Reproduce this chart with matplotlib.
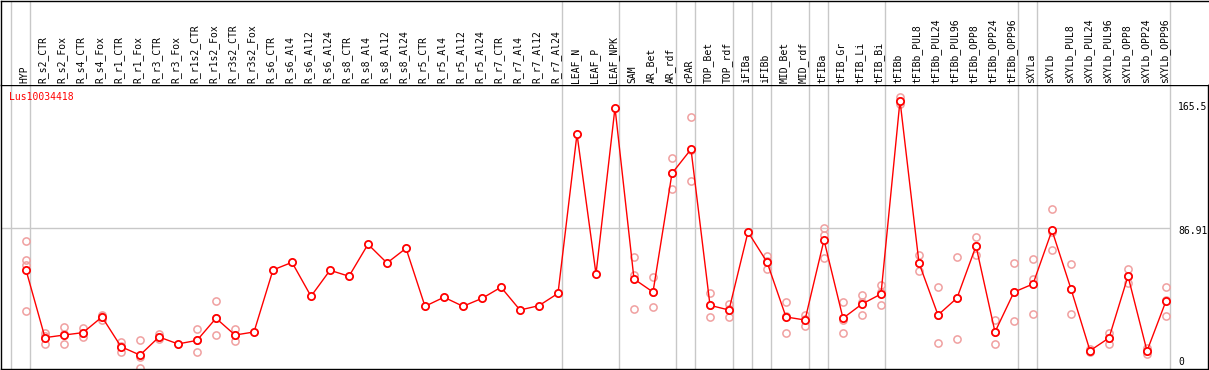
import matplotlib
matplotlib.use("Agg")
import matplotlib.pyplot as plt
import matplotlib.transforms as mtransforms

labels = ["HYP", "R_s2_CTR", "R_s2_Fox", "R_s4_CTR", "R_s4_Fox", "R_r1_CTR", "R_r1_Fox",
          "R_r3_CTR", "R_r3_Fox", "R_r1s2_CTR", "R_r1s2_Fox", "R_r3s2_CTR", "R_r3s2_Fox",
          "R_s6_CTR", "R_s6_Al4", "R_s6_Al12", "R_s6_Al24", "R_s8_CTR", "R_s8_Al4",
          "R_s8_Al12", "R_s8_Al24", "R_r5_CTR", "R_r5_Al4", "R_r5_Al12", "R_r5_Al24",
          "R_r7_CTR", "R_r7_Al4", "R_r7_Al12", "R_r7_Al24", "LEAF_N", "LEAF_P", "LEAF_NPK",
          "SAM", "AR_Bet", "AR_rdf", "cPAR", "TOP_Bet", "TOP_rdf", "iFIBa", "iFIBb",
          "MID_Bet", "MID_rdf", "tFIBa", "tFIB_Gr", "tFIB_Li", "tFIB_Bi", "tFIBb",
          "tFIBb_PUL8", "tFIBb_PUL24", "tFIBb_PUL96", "tFIBb_OPP8", "tFIBb_OPP24",
          "tFIBb_OPP96", "sXYLa", "sXYLb", "sXYLb_PUL8", "sXYLb_PUL24", "sXYLb_PUL96",
          "sXYLb_OPP8", "sXYLb_OPP24", "sXYLb_OPP96"]

means = [60.7, 18.8, 20.4, 21.9, 31.6, 13.2, 8.0, 19.2, 14.9, 17.1, 30.8, 20.4, 22.3,
         60.7, 65.4, 44.4, 60.5, 56.8, 76.6, 65.0, 74.1, 38.2, 43.8, 38.2, 43.1,
         50.0, 35.9, 38.6, 46.2, 144.8, 58.2, 161.1,
         55.1, 47.0, 120.5, 135.4, 38.8, 35.9, 84.2, 65.6, 31.6, 29.7,
         79.2, 30.8, 39.6, 45.8, 165.5, 65.0, 32.8, 43.3, 75.5, 22.3, 47.0,
         52.0, 85.2, 48.9, 10.7, 18.6, 56.9, 10.5, 41.5]

reps = [[78.4, 66.7, 63.6, 35.3], [21.9, 19.8, 14.7], [25.4, 21.0, 14.7],
        [24.9, 21.4, 19.4], [32.8, 32.2, 29.7], [15.9, 13.7, 9.9], [17.1, 7.0, 0.0],
        [20.9, 19.0, 17.8], [], [24.0, 17.6, 9.7], [41.3, 30.8, 20.2],
        [24.1, 20.7, 16.5], [],
        [], [], [], [], [], [], [], [], [], [], [], [], [], [], [], [], [], [], [],
        [68.5, 57.6, 36.5], [56.5, 47.0, 37.6], [129.8, 121.0, 110.8],
        [155.2, 135.0, 115.8], [46.2, 38.8, 31.4], [39.6, 36.3, 31.8], [],
        [69.3, 66.4, 61.1], [40.7, 32.4, 21.7], [32.8, 30.1, 26.2],
        [86.7, 82.5, 67.9], [40.7, 30.0, 21.7], [45.0, 41.0, 32.6], [51.4, 47.2, 38.8],
        [167.9, 165.4, 163.2], [70.0, 65.0, 59.9], [50.0, 33.0, 15.3],
        [68.5, 43.5, 18.0], [80.9, 75.7, 69.9], [29.7, 22.3, 14.9], [65.0, 47.0, 29.1],
        [67.3, 55.3, 33.2], [98.4, 84.3, 73.0], [64.4, 49.0, 33.4], [11.5, 10.6, 10.0],
        [21.9, 18.8, 15.0], [61.3, 56.7, 52.8], [12.2, 10.6, 8.7], [50.0, 42.2, 32.2]]

group_ends = [-1, 0, 28, 31, 34, 35, 37, 38, 39, 41, 42, 45, 52, 53, 60]
ytick_vals = [0, 86.91, 165.5]
ytick_text = ["0", "86.91", "165.5"]
gene = "Lus10034418"

W, H = 1209, 370
fig = plt.figure(figsize=(W / 100, H / 100), dpi=100)
mono = "DejaVu Sans Mono"

px_per_x = 19.0
px_per_y = 1.6155
ax_left_px, ax_w_px = 1, 1207
ax_top_px, ax_bot_px = 85, 368.5
xmin = -(26 - ax_left_px) / px_per_x
xmax = xmin + ax_w_px / px_per_x
ymin = -(ax_bot_px - 368) / px_per_y
ymax = ymin + (ax_bot_px - ax_top_px) / px_per_y

ax = fig.add_axes([ax_left_px / W, (H - ax_bot_px) / H, ax_w_px / W, (ax_bot_px - ax_top_px) / H])
hx = fig.add_axes([ax_left_px / W, (H - ax_top_px) / H, ax_w_px / W, (ax_top_px - 0.5) / H])

for a in (ax, hx):
    a.set_xlim(xmin, xmax)
    a.set_xticks([])
    a.set_yticks([])
    for s in a.spines.values():
        s.set_color("black")
        s.set_linewidth(1.0)
ax.set_ylim(ymin, ymax)
hx.set_ylim(0, 1)
hx.spines["right"].set_visible(False)
hx.spines["bottom"].set_visible(False)

xs = list(range(len(labels)))
bounds = [g + 0.21 for g in group_ends]
for b in bounds:
    ax.axvline(b, color="#c8c8c8", lw=1.0, zorder=1)
    hx.axvline(b, color="#c8c8c8", lw=1.0, zorder=1)

ax.hlines(ytick_vals[1], xmin, bounds[-1], color="#c8c8c8", lw=1.0, zorder=1)

for x, r in zip(xs, reps):
    if r:
        ax.plot([x] * len(r), r, linestyle="none", marker="o", ms=5.2, mfc="none",
                mec="#f0a0a0", mew=1.1, zorder=2, clip_on=True)

ax.plot(xs, means, color="#ff0000", lw=1.0, zorder=3)
ax.plot(xs, means, linestyle="none", marker="o", ms=5.2, mfc="white", mec="#ff0000",
        mew=1.3, zorder=4)

for x, lab in zip(xs, labels):
    hx.text(x - 0.1, 2.0 / 85, lab, rotation=90, ha="center", va="bottom",
            family=mono, fontsize=7, color="black")

offsets = [6.3, -3.7, -6.4]
for v, t, off in zip(ytick_vals, ytick_text, offsets):
    tr = mtransforms.offset_copy(ax.transData, fig=fig, x=0, y=off, units="dots")
    ax.text(60.63, v, t, transform=tr, ha="left", va="center", family=mono,
            fontsize=7, color="black", clip_on=False)

ax.text(8.3 / ax_w_px, 1 - 12 / (ax_bot_px - ax_top_px), gene, transform=ax.transAxes,
        ha="left", va="center", family=mono, fontsize=7, color="#ff0000")

fig.savefig("out.png", dpi=100)
